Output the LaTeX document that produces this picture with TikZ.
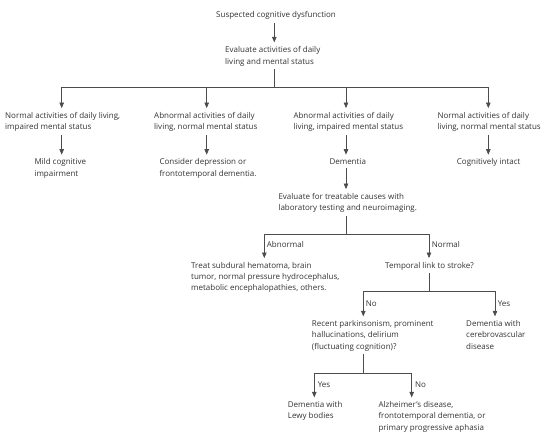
\documentclass[tikz,border=0pt]{standalone}
\usepackage{fontspec}
\setmainfont{Open Sans}
\usetikzlibrary{arrows.meta}
\begin{document}
\begin{tikzpicture}[x=1pt,y=-1pt,
  txt/.style={inner sep=0pt, anchor=north west, align=left, text=black!80, font=\fontsize{8}{11.3}\selectfont},
  lbl/.style={inner sep=0pt, anchor=west, text=black!80, font=\fontsize{8}{11.3}\selectfont},
  ln/.style={draw=black!70, line width=0.7pt},
  arr/.style={ln, -{Triangle[length=5.5pt,width=4.5pt]}, shorten >=4pt},
  fromnode/.style={shorten <=3pt},
]
\useasboundingbox (0,0) rectangle (550,438);

% texts
\node[txt] (s0) at (216,11.4) {Suspected cognitive dysfunction};
\node[txt] (s1) at (225,46.4) {Evaluate activities of daily\\living and mental status};
\node[txt] (a1) at (5,112.1) {Normal activities of daily living,\\impaired mental status};
\node[txt] (a2) at (154,112.1) {Abnormal activities of daily\\living, normal mental status};
\node[txt] (a3) at (293.3,112.1) {Abnormal activities of daily\\living, impaired mental status};
\node[txt] (a4) at (437.3,112.1) {Normal activities of daily\\living, normal mental status};
\node[txt] (b1) at (34.3,158.7) {Mild cognitive\\impairment};
\node[txt] (b2) at (159.3,158.7) {Consider depression or\\frontotemporal dementia.};
\node[txt] (b3) at (329.3,158.7) {Dementia};
\node[txt] (b4) at (456.7,158.7) {Cognitively intact};
\node[txt] (c1) at (278.3,193.1) {Evaluate for treatable causes with\\laboratory testing and neuroimaging.};
\node[txt] (d1) at (191,262.1) {Treat subdural hematoma, brain\\tumor, normal pressure hydrocephalus,\\metabolic encephalopathies, others.};
\node[txt] (d2) at (385,262.1) {Temporal link to stroke?};
\node[txt] (e1) at (311.7,320.4) {Recent parkinsonism, prominent\\hallucinations, delirium\\(fluctuating cognition)?};
\node[txt] (e2) at (466,320.4) {Dementia with\\cerebrovascular\\disease};
\node[txt] (f1) at (287.7,401.4) {Dementia with\\Lewy bodies};
\node[txt] (f2) at (378.3,401.4) {Alzheimer’s disease,\\frontotemporal dementia, or\\primary progressive aphasia};

% branch labels
\node[lbl] (l1) at (266.7,245) {Abnormal};
\node[lbl] (l2) at (431.7,245) {Normal};
\node[lbl] (l3) at (365.7,303.3) {No};
\node[lbl] (l4) at (497.7,303.3) {Yes};
\node[lbl] (l5) at (317.7,384.7) {Yes};
\node[lbl] (l6) at (415,384.7) {No};

% junction coordinates
\coordinate (j0) at (274.3,87.3);
\coordinate (k1) at (61.7,87.3);
\coordinate (k2) at (206.7,87.3);
\coordinate (k3) at (346,87.3);
\coordinate (k4) at (488.3,87.3);
\coordinate (j2) at (346.7,234);
\coordinate (m1) at (264.3,234);
\coordinate (m2) at (429,234);
\coordinate (n0) at (429,291.5);
\coordinate (n1) at (363.3,291.5);
\coordinate (n2) at (495,291.5);
\coordinate (p0) at (363.3,373.3);
\coordinate (p1) at (314.3,373.3);
\coordinate (p2) at (411.7,373.3);

% connectors
\draw[arr, fromnode] (s0.south -| j0) -- (s1.north -| j0);
\draw[ln, fromnode] (s1.south -| j0) -- (j0);
\draw[arr] (j0) -- (k1) -- (a1.north -| k1);
\draw[arr] (j0) -- (k4) -- (a4.north -| k4);
\draw[arr] (k2) -- (a2.north -| k2);
\draw[arr] (k3) -- (a3.north -| k3);
\draw[arr, fromnode] (a1.south -| k1) -- (b1.north -| k1);
\draw[arr, fromnode] (a2.south -| k2) -- (b2.north -| k2);
\draw[arr, fromnode] (a3.south -| k3) -- (b3.north -| k3);
\draw[arr, fromnode] (a4.south -| k4) -- (b4.north -| k4);
\draw[arr, fromnode] (b3.south -| k3) -- (c1.north -| k3);

\draw[ln, fromnode] (c1.south -| j2) -- (j2);
\draw[arr] (j2) -- (m1) -- (d1.north -| m1);
\draw[arr] (j2) -- (m2) -- (d2.north -| m2);

\draw[ln, fromnode] (d2.south -| n0) -- (n0);
\draw[arr] (n0) -- (n1) -- (e1.north -| n1);
\draw[arr] (n0) -- (n2) -- (e2.north -| n2);

\draw[ln, fromnode] (e1.south -| p0) -- (p0);
\draw[arr] (p0) -- (p1) -- (f1.north -| p1);
\draw[arr] (p0) -- (p2) -- (f2.north -| p2);
\end{tikzpicture}
\end{document}
